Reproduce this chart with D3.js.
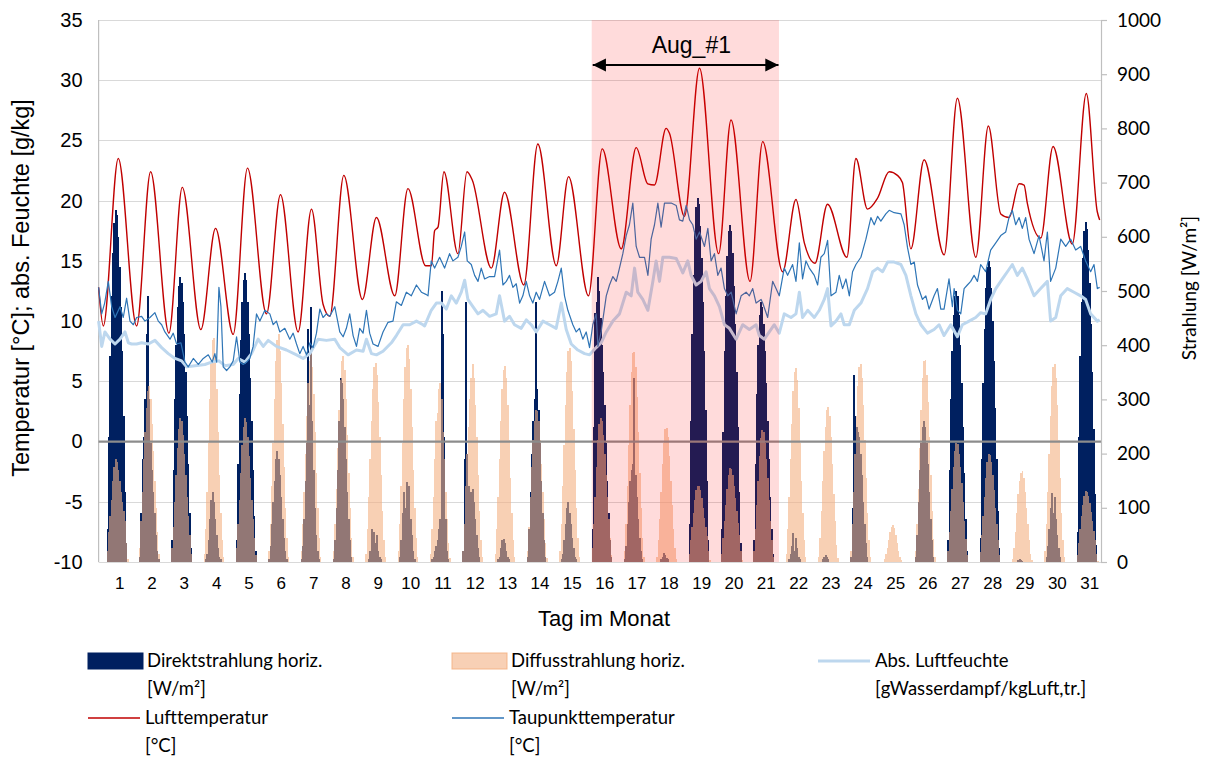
<!DOCTYPE html>
<html>
<head>
<meta charset="utf-8">
<script src="https://cdn.jsdelivr.net/npm/d3@7"></script>
<style>
  body { margin: 0; background: #fff; }
  svg { display: block; }
</style>
</head>
<body>
<svg id="chart" width="1207" height="758"></svg>
<script>
// ---- data -------------------------------------------------------------
const days = d3.range(1, 32);
const tempTicks = d3.range(-10, 36, 5);
const radTicks = d3.range(0, 1001, 100);
const firstHour = 5; // hourly radiation values run from 05:00 to 21:00

// Direct horizontal radiation [W/m²], hourly 05..21, one row per day
const directRad = [
  [0,60,230,380,490,570,625,650,640,600,545,470,390,270,130,35,0],
  [0,10,90,190,230,300,420,490,300,220,170,130,90,50,20,5,0],
  [0,40,170,300,400,470,510,526,515,480,420,350,270,180,90,25,0],
  [0,0,5,15,40,80,115,130,110,80,50,25,10,5,0,0,0],
  [0,40,180,310,410,480,520,533,520,480,420,340,260,170,85,20,0],
  [0,5,30,70,110,150,190,204,190,160,120,80,45,20,5,0,0],
  [0,5,30,80,150,220,430,290,470,260,170,100,50,20,5,0,0],
  [0,5,40,100,170,260,340,330,300,250,190,130,80,40,10,0,0],
  [0,0,0,5,20,60,30,55,35,50,20,10,5,0,0,0,0],
  [0,0,10,40,90,130,100,148,95,140,80,50,20,5,0,0,0],
  [0,0,5,10,20,30,40,60,80,500,420,230,80,20,5,0,0],
  [0,20,190,480,200,140,120,130,135,110,80,50,25,10,0,0,0],
  [0,0,0,5,10,25,40,43,35,20,10,5,0,0,0,0,0],
  [0,10,60,130,200,260,300,480,320,280,220,150,90,40,10,0,0],
  [0,0,5,15,40,70,100,110,90,70,45,25,10,5,0,0,0],
  [0,60,250,460,480,526,500,450,400,350,290,220,150,90,40,10,0],
  [0,5,30,70,110,150,170,180,339,160,120,80,45,20,5,0,0],
  [0,0,0,0,5,10,16,12,8,5,0,0,0,0,0,0,0],
  [0,70,260,420,530,610,655,671,660,620,560,480,390,280,150,40,0],
  [0,60,240,390,490,565,610,622,610,570,510,440,350,250,130,35,0],
  [0,40,180,310,400,455,480,470,440,390,330,260,190,120,60,15,0],
  [0,0,0,5,15,30,53,20,45,25,10,5,0,0,0,0,0],
  [0,0,0,0,5,10,13,10,5,0,0,0,0,0,0,0,0],
  [0,10,100,345,270,250,240,230,200,160,110,70,35,10,0,0,0],
  [0,0,0,0,0,0,0,0,0,0,0,0,0,0,0,0,0],
  [0,10,50,110,170,220,250,260,250,220,180,130,80,40,10,0,0],
  [0,40,170,300,390,455,490,500,490,455,400,330,250,165,80,20,0],
  [0,45,190,330,430,505,545,556,545,505,445,370,285,190,95,25,0],
  [0,0,0,0,0,3,5,4,2,0,0,0,0,0,0,0,0],
  [0,0,10,30,60,100,128,90,120,80,50,25,10,0,0,0,0],
  [0,55,230,380,480,560,610,628,615,575,515,440,350,245,125,32,0]
];

// Diffuse horizontal radiation [W/m²], hourly 05..21, one row per day
const diffuseRad = [
  [0,20,55,85,115,150,175,190,185,170,150,130,110,95,75,35,5],
  [0,25,75,130,190,240,285,315,325,300,255,205,150,100,55,15,0],
  [0,25,65,110,160,210,245,266,260,235,200,160,120,85,50,15,0],
  [0,15,60,130,220,300,370,410,414,380,320,240,160,90,40,10,0],
  [0,25,70,115,165,215,250,266,258,230,195,155,115,80,45,12,0],
  [0,20,70,140,220,300,370,410,420,390,330,255,175,100,45,10,0],
  [0,20,70,130,200,270,330,370,385,360,310,240,165,100,45,10,0],
  [0,20,70,135,210,280,335,370,380,355,300,235,165,100,45,10,0],
  [0,15,60,120,190,260,320,360,368,345,295,230,160,95,40,10,0],
  [0,20,70,140,220,300,360,395,400,375,320,250,170,100,45,10,0],
  [0,15,60,120,190,260,275,320,330,300,240,190,130,80,35,8,0],
  [0,20,70,140,200,250,300,340,365,340,290,230,160,95,40,10,0],
  [0,15,60,120,190,260,320,355,362,340,290,225,155,90,40,10,0],
  [0,20,65,120,175,225,260,280,278,260,225,180,130,80,35,8,0],
  [0,20,70,140,215,290,350,390,395,370,315,245,170,100,45,10,0],
  [0,25,70,120,175,225,255,266,260,235,200,160,120,80,45,12,0],
  [0,20,70,140,215,290,350,385,388,360,305,240,165,100,45,10,0],
  [0,10,40,80,130,180,220,245,247,230,195,150,105,60,25,5,0],
  [0,15,40,65,90,115,132,141,140,132,118,100,82,65,48,20,3],
  [0,15,45,75,105,135,160,174,172,160,140,118,95,72,50,20,3],
  [0,20,60,105,150,195,228,243,240,220,190,155,115,75,40,10,0],
  [0,15,60,120,190,255,315,350,358,335,285,220,150,90,40,10,0],
  [0,10,45,95,150,205,250,280,286,270,230,180,125,75,32,8,0],
  [0,20,70,130,200,270,325,360,365,340,290,225,155,90,40,10,0],
  [0,0,5,15,25,40,55,65,69,62,50,35,20,10,3,0,0],
  [0,20,70,135,210,280,340,370,372,345,295,230,160,95,42,10,0],
  [0,20,55,95,135,175,205,220,218,200,175,145,110,75,42,12,0],
  [0,18,50,85,120,155,185,200,198,185,160,132,100,70,40,12,0],
  [0,5,25,55,90,125,150,165,168,155,130,100,70,40,15,3,0],
  [0,20,70,130,200,270,325,360,365,340,290,225,155,90,40,10,0],
  [0,12,35,60,85,105,122,131,130,122,108,92,75,58,40,15,2]
];

// Air temperature [°C] as [hour of month, value]
const airTemp = [
  [0,12.8],[3.5,9.6],[14.6,23.5],[28.2,9.6],[38.6,22.4],[52.2,9.0],[62.1,21.1],
  [75.9,9.3],[86.8,17.7],[99.9,8.9],[110.5,22.7],[124.6,10.6],[135,20.5],
  [148.1,9.1],[158,19.3],[166.6,11.4],[171.6,10.4],[182,22.1],[195.8,11.8],
  [206.2,18.6],[219.8,12.1],[229.6,21.0],[242.7,14.6],[247,14.6],[249.4,17.5],
  [251.9,17.8],[256.3,22.4],[266.7,15.6],[273.4,22.4],[277.4,21.7],[291.5,14.4],
  [301.3,20.7],[315.6,13.0],[326,24.7],[339.7,14.6],[348.8,22.0],[363.6,12.1],
  [373.8,24.3],[387.9,16.0],[399,24.4],[407.6,21.4],[412.6,21.3],[421.2,26.0],
  [423.7,25.6],[434.8,18.7],[446,31.0],[460.2,15.6],[469.4,26.7],[483.5,13.3],
  [492.9,24.9],[507.7,14.1],[517.6,20.1],[523.8,16.5],[531.7,14.8],[541,19.7],
  [555.4,15.3],[562.1,23.5],[570.7,19.3],[578.1,20.2],[586.8,22.4],[592.9,22.1],
  [596.6,21.5],[602.9,16.0],[612.7,23.4],[627.6,15.5],[637.4,28.5],[651.1,15.3],
  [660.4,26.2],[669.6,18.9],[675.8,18.6],[683.2,21.4],[686.9,21.3],[689.3,19.8],
  [699.3,16.9],[708.4,24.5],[722.7,16.4],[733.1,28.9],[741.2,19.1],[743,18.4]
];

// Dew point temperature [°C] as [hour of month, value]
const dewPoint = [
  [0,12.8],[2.3,10.6],[4.5,11.5],[7.2,13.3],[9.7,11.2],[12.2,10.3],[15.9,11.2],
  [18.3,10.3],[20.8,11.9],[23.3,10.0],[25.8,9.7],[28.2,10.3],[31.9,10.4],[34.4,10.0],
  [38.1,10.3],[41.8,10.7],[44.3,10.0],[46.8,9.7],[49.2,9.1],[53,8.5],[55.4,9.0],
  [57.9,8.1],[61.1,8.2],[64.1,6.6],[66.5,6.2],[70.3,6.9],[74,6.4],[77.7,6.9],
  [81.4,7.2],[84.3,6.6],[86.3,7.3],[87.6,6.6],[89.3,12.8],[90.8,11.2],[92.5,6.2],
  [95,5.9],[97.4,6.2],[99.9,6.7],[102.4,8.7],[104.9,6.6],[107.3,6.4],[109.8,6.6],
  [112.3,6.9],[114.7,7.9],[117.2,10.6],[119.7,10.0],[123.4,10.9],[127.1,10.6],
  [129.6,9.7],[132,10.0],[134.5,9.1],[138.2,9.4],[141.9,8.5],[144.4,9.0],[146.9,8.1],
  [149.3,7.3],[151.8,7.9],[154.3,7.2],[156.8,8.2],[159.2,7.8],[161.7,9.0],[164.2,11.0],
  [166.6,10.3],[169.1,10.6],[171.6,10.4],[175.3,11.2],[179,9.1],[181.5,8.7],[183.9,9.4],
  [186.4,10.6],[188.9,8.8],[191.4,7.9],[193.8,9.4],[196.3,9.0],[198.8,10.9],[201.2,9.0],
  [203.7,8.1],[207.4,7.9],[211.1,9.1],[214.8,9.9],[218.5,10.0],[221,11.6],[224.7,11.3],
  [228.4,12.4],[232.1,12.1],[235.9,13.0],[239.6,12.4],[243.3,12.2],[244.5,12.1],
  [246.9,15.0],[249.4,14.4],[253.1,15.3],[256.8,14.4],[260.5,15.6],[263,15.0],
  [266.7,15.3],[269.2,16.2],[271.7,17.4],[273.6,15.0],[276.6,14.7],[279.1,13.8],
  [281.6,13.3],[284,14.4],[286.5,13.5],[290.2,13.7],[293.9,13.7],[297.6,15.9],
  [300.1,13.0],[302.6,13.3],[305,13.8],[307.5,12.8],[310,13.1],[312.5,11.5],
  [314.9,12.1],[317.4,13.3],[319.9,12.1],[322.3,11.5],[324.8,12.4],[327.3,11.8],
  [331,13.3],[334.7,12.1],[338.4,12.4],[340.9,13.3],[343.4,14.4],[345.8,12.1],
  [348.3,10.9],[352,9.7],[354.5,9.1],[356.9,9.4],[359.4,8.5],[361.9,9.1],[364.4,7.8],
  [366.8,9.7],[369.3,10.6],[370.6,7.9],[373,9.1],[376.8,12.1],[379.2,13.0],[381.7,13.7],
  [384.2,13.3],[386.6,14.4],[389.1,15.6],[391.6,17.1],[394,18.0],[396.5,19.8],
  [399,16.2],[401.5,15.3],[405.2,15.3],[407.7,13.8],[410.1,16.8],[412.6,18.0],
  [415.1,19.8],[417.5,17.8],[420,19.8],[425,19.8],[428.7,19.6],[431.1,18.4],
  [433.6,18.3],[436.1,19.6],[438.6,18.4],[441,18.0],[443.5,16.8],[446,17.4],
  [449.7,16.2],[452.2,17.7],[454.6,15.0],[457.1,15.6],[459.6,13.8],[462,14.4],
  [464.5,12.7],[467,12.1],[469.5,12.4],[473.2,10.6],[476.9,12.1],[480.6,12.4],
  [483,12.1],[485.5,12.7],[488,11.5],[491.7,11.8],[492.9,11.5],[496.6,10.3],
  [500.3,13.3],[502.8,12.7],[505.2,12.1],[508.9,14.4],[511.4,13.8],[515.1,14.7],
  [517.6,13.3],[520.1,16.5],[522.5,13.5],[525,15.0],[527.5,14.4],[531.2,13.8],
  [533.7,13.0],[536.1,15.3],[538.6,15.6],[541.1,16.7],[543.6,12.1],[547.3,12.4],
  [549.7,13.8],[552.2,12.7],[554.7,13.5],[557.2,12.1],[559.6,14.1],[562.1,14.7],
  [565.8,15.3],[569.5,16.8],[573.2,18.6],[575.7,18.0],[578.2,18.7],[580.6,18.3],
  [584.3,18.9],[586.8,19.2],[590.5,19.0],[595.5,18.9],[597.9,18.0],[600.4,16.1],
  [602.9,14.7],[605.4,14.9],[607.8,13.0],[611.5,11.8],[614,12.1],[616.4,11.0],
  [620.1,12.1],[622.6,12.7],[625.1,11.0],[627.5,11.0],[631.2,13.5],[633.7,11.2],
  [635,12.7],[637.4,10.9],[639.9,10.6],[642.4,12.7],[644.8,13.0],[647.3,13.3],
  [649.8,13.8],[652.3,13.3],[654.7,14.7],[658.4,14.1],[662.1,15.9],[665.9,16.5],
  [669.6,17.1],[673.3,17.4],[675.7,18.6],[678.2,19.2],[680.7,18.0],[683.2,18.6],
  [685.6,17.7],[688.1,18.6],[690.6,16.8],[694.3,15.6],[698,17.1],[701.7,15.0],
  [704.2,17.4],[706.6,13.3],[710.4,14.4],[714.1,16.8],[717.8,16.2],[721.5,16.8],
  [725.2,15.9],[728.9,16.2],[732.6,15.0],[736.3,14.1],[738.8,14.7],[741.3,12.7],[743,12.8]
];

// Absolute humidity [g water vapour / kg dry air] as [hour of month, value]
const absHumidity = [
  [0,10.0],[2.3,7.9],[4.7,9.1],[8.5,8.5],[12.2,8.1],[15.9,8.5],[19.6,9.1],[22.1,8.2],
  [24.5,8.1],[28.2,8.1],[31.9,8.2],[36.9,8.1],[41.8,8.4],[46.8,7.8],[51.7,7.3],
  [56.7,6.9],[61.6,6.7],[65.3,6.2],[71.5,6.3],[78.9,6.4],[83.8,6.6],[89.3,6.7],
  [93.7,6.3],[99.9,6.4],[103.6,6.9],[108.6,6.6],[113.5,7.3],[118.4,8.5],[122.2,7.9],
  [125.9,8.4],[132,7.9],[139.4,7.6],[146.9,7.2],[151.8,6.9],[156.8,7.3],[162.9,8.5],
  [169.1,8.4],[175.3,8.5],[179,7.8],[185.2,7.2],[191.4,7.6],[196.3,7.5],[198.8,8.5],
  [202.5,7.3],[206.2,7.2],[211.1,7.5],[217.3,8.2],[221,8.8],[226,9.7],[230.9,9.7],
  [235.9,10.0],[240.8,9.7],[242,9.6],[246.9,10.9],[250.7,11.5],[254.4,11.5],
  [258.1,11.0],[261.8,12.1],[265.5,11.5],[269.2,12.4],[271.7,13.4],[274.1,11.8],
  [277.8,11.2],[281.6,10.6],[285.3,10.9],[290.2,10.4],[295.1,10.6],[297.6,12.1],
  [301.3,10.0],[305,10.4],[308.7,9.7],[313.7,9.4],[317.4,10.1],[321.1,9.7],[324.8,9.1],
  [329.8,10.0],[334.7,9.7],[339.6,9.4],[343.4,11.5],[347.1,9.3],[350.8,8.1],[355.7,7.6],
  [360.7,7.3],[364.4,7.2],[369.3,7.8],[373,8.2],[376.8,9.1],[381.7,10.0],[386.6,10.6],
  [391.6,12.4],[395.3,12.1],[397.8,14.4],[400.2,12.4],[403.9,11.8],[407.7,10.9],
  [411.4,13.3],[413.8,15.0],[416.3,13.3],[418.8,15.3],[423.7,15.3],[428.7,15.2],
  [433.6,14.0],[437.3,15.0],[439.8,13.8],[443.5,13.0],[447.2,13.3],[450.9,14.1],
  [453.4,12.7],[457.1,12.1],[460.8,11.2],[464.5,9.7],[468.2,9.4],[473.2,8.5],
  [478.1,9.7],[483,9.3],[488,9.7],[490.4,8.8],[494.1,8.5],[497.8,9.1],[501.5,9.7],
  [505.2,9.0],[508.9,10.6],[513.9,10.3],[517.6,10.6],[520.1,12.4],[522.5,10.3],
  [526.3,10.9],[531.2,10.3],[534.9,10.9],[538.6,11.8],[541.1,12.7],[543.6,9.6],
  [547.3,10.0],[551,10.6],[553.4,9.7],[557.2,9.7],[560.9,10.9],[565.8,11.5],
  [570.7,12.7],[574.5,14.1],[578.2,14.4],[581.9,14.1],[585.6,14.9],[590.5,14.9],
  [595.5,14.7],[599.2,13.8],[602.9,12.1],[606.6,10.6],[610.3,9.7],[615.2,9.0],
  [620.1,9.3],[623.8,9.7],[627.5,8.8],[632.5,9.7],[637.4,8.7],[641.1,9.7],[646.1,10.0],
  [651,10.3],[654.7,10.7],[658.4,10.6],[662.1,11.8],[665.9,12.7],[670.8,13.5],
  [674.5,14.1],[678.2,14.7],[681.9,13.8],[685.6,14.4],[689.3,13.5],[694.3,12.1],
  [699.2,12.7],[704.2,13.3],[706.6,10.0],[710.4,10.3],[714.1,12.1],[719,12.7],
  [724,12.4],[728.9,12.1],[732.6,11.8],[736.3,10.6],[741.3,10.0],[743,10.1]
];

// Highlighted period "Aug_#1" in hours of month
const periodAug1 = [366, 505];

// ---- layout -----------------------------------------------------------
const svg = d3.select('#chart');
const plot = { left: 98.6, right: 1101, top: 20, bottom: 562 };
const hoursInMonth = 744;

const x = d3.scaleLinear().domain([0, hoursInMonth]).range([plot.left, plot.right]);
const yT = d3.scaleLinear().domain([-10, 35]).range([plot.bottom, plot.top]);
const yR = d3.scaleLinear().domain([0, 1000]).range([plot.bottom, plot.top]);

const ARIAL = "'Liberation Sans', Arial, sans-serif";
const CALIBRI = "Lato, 'Open Sans', sans-serif";

// gridlines
svg.append('g')
  .selectAll('line')
  .data(tempTicks.filter(t => t !== 0))
  .join('line')
  .attr('x1', plot.left).attr('x2', plot.right)
  .attr('y1', d => Math.round(yT(d)) + 0.5).attr('y2', d => Math.round(yT(d)) + 0.5)
  .attr('stroke', '#d9d9d9').attr('stroke-width', 1.2);

// left plot edge
svg.append('line')
  .attr('x1', plot.left).attr('x2', plot.left)
  .attr('y1', plot.top).attr('y2', plot.bottom)
  .attr('stroke', '#bfbfbf').attr('stroke-width', 1.2);

// ---- radiation bars ----------------------------------------------------
const toBars = rows => rows.flatMap((vals, di) =>
  vals.map((v, k) => ({ hour: di * 24 + firstHour + k, value: v })).filter(b => b.value > 0));

function drawBars(rows, fill, opacity) {
  svg.append('g')
    .attr('opacity', opacity)
    .attr('shape-rendering', 'crispEdges')
    .selectAll('rect')
    .data(toBars(rows))
    .join('rect')
    .attr('x', d => x(d.hour))
    .attr('width', d => x(d.hour + 1) - x(d.hour) + 0.5)
    .attr('y', d => yR(d.value))
    .attr('height', d => yR(0) - yR(d.value))
    .attr('fill', fill);
}
drawBars(directRad, '#002060', 1);
drawBars(diffuseRad, '#F4B183', 0.6);

// horizontal category axis crossing at 0 °C
svg.append('line')
  .attr('x1', plot.left).attr('x2', plot.right)
  .attr('y1', yT(0)).attr('y2', yT(0))
  .attr('stroke', '#8c8c8c').attr('stroke-width', 2.2);

// ---- lines --------------------------------------------------------------
const lineT = curve => d3.line().x(d => x(d[0])).y(d => yT(d[1])).curve(curve);

svg.append('path').datum(absHumidity)
  .attr('d', lineT(d3.curveLinear))
  .attr('fill', 'none').attr('stroke', '#BDD7EE').attr('stroke-width', 3)
  .attr('stroke-linejoin', 'round');

svg.append('path').datum(airTemp)
  .attr('d', lineT(d3.curveMonotoneX))
  .attr('fill', 'none').attr('stroke', '#C00000').attr('stroke-width', 1.4);

svg.append('path').datum(dewPoint)
  .attr('d', lineT(d3.curveLinear))
  .attr('fill', 'none').attr('stroke', '#2E75B6').attr('stroke-width', 1.2)
  .attr('stroke-linejoin', 'round');

// ---- highlighted period --------------------------------------------------
svg.append('rect')
  .attr('x', x(periodAug1[0])).attr('width', x(periodAug1[1]) - x(periodAug1[0]))
  .attr('y', plot.top).attr('height', plot.bottom - plot.top)
  .attr('fill', 'rgb(255,0,0)').attr('fill-opacity', 0.14);

const defs = svg.append('defs');
defs.append('marker')
  .attr('id', 'arrowHead')
  .attr('viewBox', '0 0 10 10').attr('refX', 10).attr('refY', 5)
  .attr('markerWidth', 7).attr('markerHeight', 6).attr('markerUnits', 'strokeWidth')
  .attr('orient', 'auto-start-reverse')
  .append('path').attr('d', 'M0,0 L10,5 L0,10 z').attr('fill', '#000');

const arrowY = 65;
svg.append('line')
  .attr('x1', x(periodAug1[0]) + 1).attr('x2', x(periodAug1[1]) - 0.5)
  .attr('y1', arrowY).attr('y2', arrowY)
  .attr('stroke', '#000').attr('stroke-width', 2.2)
  .attr('marker-start', 'url(#arrowHead)').attr('marker-end', 'url(#arrowHead)');

svg.append('text')
  .attr('x', (x(periodAug1[0]) + x(periodAug1[1])) / 2 + 6).attr('y', 53)
  .attr('text-anchor', 'middle')
  .style('font-family', ARIAL).style('font-size', '23px')
  .text('Aug_#1');

// ---- axes ---------------------------------------------------------------
const leftAxis = svg.append('g')
  .attr('transform', `translate(${plot.left},0)`)
  .call(d3.axisLeft(yT).tickValues(tempTicks).tickSize(0).tickPadding(16).tickFormat(d => String(d)));
leftAxis.select('.domain').remove();
leftAxis.selectAll('text')
  .style('font-family', ARIAL).style('font-size', '20px').attr('fill', '#000');

const rightAxis = svg.append('g')
  .attr('transform', `translate(${plot.right},0)`)
  .call(d3.axisRight(yR).tickValues(radTicks).tickSize(6).tickPadding(10).tickFormat(d => String(d)));
rightAxis.select('.domain').attr('stroke', '#bfbfbf').attr('stroke-width', 1.2);
rightAxis.selectAll('.tick line').attr('stroke', '#bfbfbf').attr('stroke-width', 1.2);
rightAxis.selectAll('text')
  .style('font-family', CALIBRI).style('font-size', '19px').attr('fill', '#000');

// day labels
svg.append('g')
  .selectAll('text')
  .data(days)
  .join('text')
  .attr('x', d => x((d - 1) * 24 + 15.6))
  .attr('y', 589)
  .attr('text-anchor', 'middle')
  .style('font-family', ARIAL).style('font-size', '17px')
  .text(d => d);

// axis titles
svg.append('text')
  .attr('transform', 'translate(29,288) rotate(-90)')
  .attr('text-anchor', 'middle')
  .style('font-family', ARIAL).style('font-size', '23.5px')
  .text('Temperatur [°C]; abs. Feuchte [g/kg]');

svg.append('text')
  .attr('transform', 'translate(1196,288) rotate(-90)')
  .attr('text-anchor', 'middle')
  .style('font-family', CALIBRI).style('font-size', '19px')
  .text('Strahlung [W/m²]');

svg.append('text')
  .attr('x', 604).attr('y', 626)
  .attr('text-anchor', 'middle')
  .style('font-family', ARIAL).style('font-size', '22px')
  .text('Tag im Monat');

// ---- legend -------------------------------------------------------------
const legendItems = [
  { kind: 'rect', fill: '#002060', opacity: 1, x: 88, y: 661, lines: ['Direktstrahlung horiz.', '[W/m²]'] },
  { kind: 'rect', fill: '#F4B183', opacity: 0.6, x: 452, y: 661, lines: ['Diffusstrahlung horiz.', '[W/m²]'] },
  { kind: 'line', stroke: '#BDD7EE', width: 3, x: 818, y: 661, lines: ['Abs. Luftfeuchte', '[gWasserdampf/kgLuft,tr.]'] },
  { kind: 'line', stroke: '#C00000', width: 1.4, x: 88, y: 718, lines: ['Lufttemperatur', '[°C]'] },
  { kind: 'line', stroke: '#2E75B6', width: 1.4, x: 452, y: 718, lines: ['Taupunkttemperatur', '[°C]'] }
];

const legend = svg.append('g');
legendItems.forEach(item => {
  const g = legend.append('g');
  if (item.kind === 'rect') {
    g.append('rect')
      .attr('x', item.x).attr('y', item.y - 8).attr('width', 55).attr('height', 16)
      .attr('fill', item.fill).attr('fill-opacity', item.opacity)
      .attr('stroke', item.fill).attr('stroke-opacity', item.opacity < 1 ? 0.9 : 1);
  } else {
    g.append('line')
      .attr('x1', item.x).attr('x2', item.x + 52)
      .attr('y1', item.y).attr('y2', item.y)
      .attr('stroke', item.stroke).attr('stroke-width', item.width);
  }
  const tx = item.kind === 'rect' ? item.x + 59 : item.x + 57;
  item.lines.forEach((t, i) => {
    g.append('text')
      .attr('x', tx).attr('y', item.y + 6 + i * 28)
      .style('font-family', CALIBRI).style('font-size', '18.5px')
      .text(t);
  });
});
</script>
</body>
</html>
